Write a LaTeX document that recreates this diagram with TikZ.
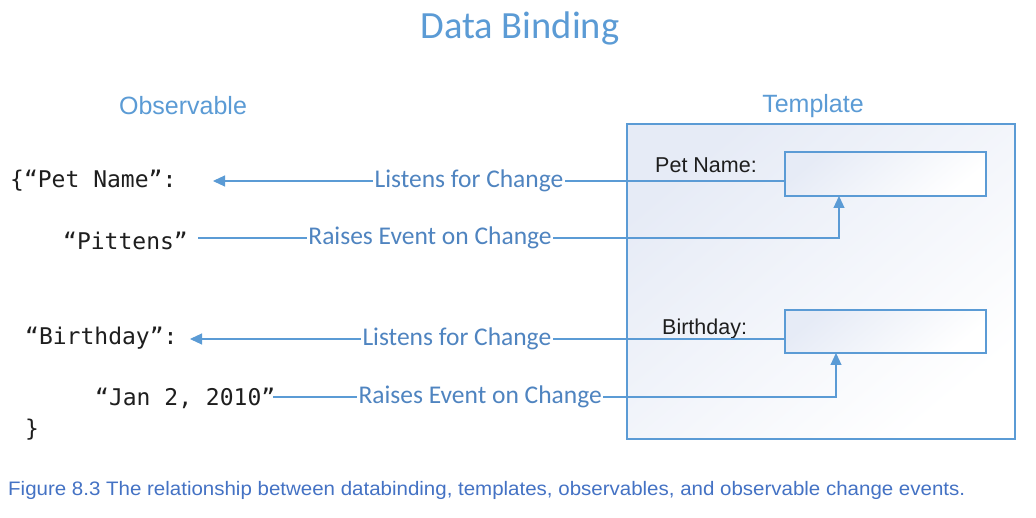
\documentclass[tikz,border=0pt]{standalone}
\usepackage{fontspec}
\usepackage{graphicx}
\usetikzlibrary{arrows.meta}
\newfontfamily\calib{Carlito}
\newfontfamily\arial{Liberation Sans}
\newfontfamily\mono{DejaVu Sans Mono}
\definecolor{lblue}{HTML}{5B9BD5}
\definecolor{tblue}{HTML}{4F84C0}
\definecolor{capblue}{HTML}{4472C4}
\definecolor{gradc}{HTML}{E6EBF6}
\definecolor{ink}{HTML}{1E1E1E}
\begin{document}
\begin{tikzpicture}[x=1pt,y=-1pt,
  code/.style={font=\mono\fontsize{23}{26}\selectfont, text=ink, anchor=base west, inner sep=0pt},
  head/.style={font=\arial\fontsize{25}{30}\selectfont, text=lblue, anchor=base, inner sep=0pt},
  field/.style={font=\arial\fontsize{21.5}{26}\selectfont, text=ink, anchor=base west, inner sep=0pt},
  inbox/.style={draw=lblue, line width=1.2pt, minimum width=201pt, minimum height=44pt, inner sep=0pt,
     left color=gradc, right color=white, shading angle=40},
  conn/.style={draw=lblue, line width=1.1pt},
  arr/.style={-{Triangle[length=12pt,width=11pt]}},
  lbl/.style={font=\calib\fontsize{25.5}{30}\selectfont, text=tblue, fill=white, inner xsep=1.5pt, inner ysep=0pt}
]
\useasboundingbox[fill=white] (0,0) rectangle (1036,518);

% titles
\node[font=\calib\fontsize{38.5}{44}\selectfont, text=lblue, anchor=base, inner sep=0pt] (title) at (520,39) {Data Binding};
\node[head] (obs) at (183,115) {Observable};
\node[head] (tpl) at (813,113) {Template};

% template box
\node[draw=lblue, line width=1.3pt, minimum width=388pt, minimum height=315pt, inner sep=0pt,
  left color=gradc, right color=white, shading angle=40] (tbox) at (821,281.5) {};
\node[inbox] (pet) at (885.5,174) {};
\node[inbox, minimum height=43pt] (bd) at (885.5,331.5) {};
\node[field] (petl) at (655,173) {Pet Name:};
\node[field] (bdl) at (662,335) {Birthday:};

% observable code
\node[code] (k1) at (10,188) {\{“Pet Name”:};
\node[code] (v1) at (63,250) {“Pittens”};
\node[code] (k2) at (25,345) {“Birthday”:};
\node[code] (v2) at (95,406) {“Jan 2, 2010”};
\node[code] (cb) at (25,436) {\}};

% connector ends
\coordinate (t1) at (213,181);
\coordinate (s2) at (198,238);
\coordinate (p2) at (839,196);
\coordinate (t3) at (190,339);
\coordinate (s4) at (273,397);
\coordinate (p4) at (836,353);

% connectors
\draw[conn,arr] (pet.west |- t1) -- node[lbl, pos=0.552] (l1) {Listens for Change} (t1);
\draw[conn,arr] (s2) -| node[lbl, pos=0.181] (l2) {Raises Event on Change} (p2);
\draw[conn,arr] (bd.west |- t3) -- node[lbl, pos=0.551] (l3) {Listens for Change} (t3);
\draw[conn,arr] (s4) -| node[lbl, pos=0.184] (l4) {Raises Event on Change} (p4);

% caption
\node[anchor=base west, inner sep=0pt, text=capblue] (cap) at (8,495)
  {\resizebox{957pt}{\height}{\arial\fontsize{19.5}{22}\selectfont Figure 8.3 The relationship between databinding, templates, observables, and observable change events.}};
\end{tikzpicture}
\end{document}
